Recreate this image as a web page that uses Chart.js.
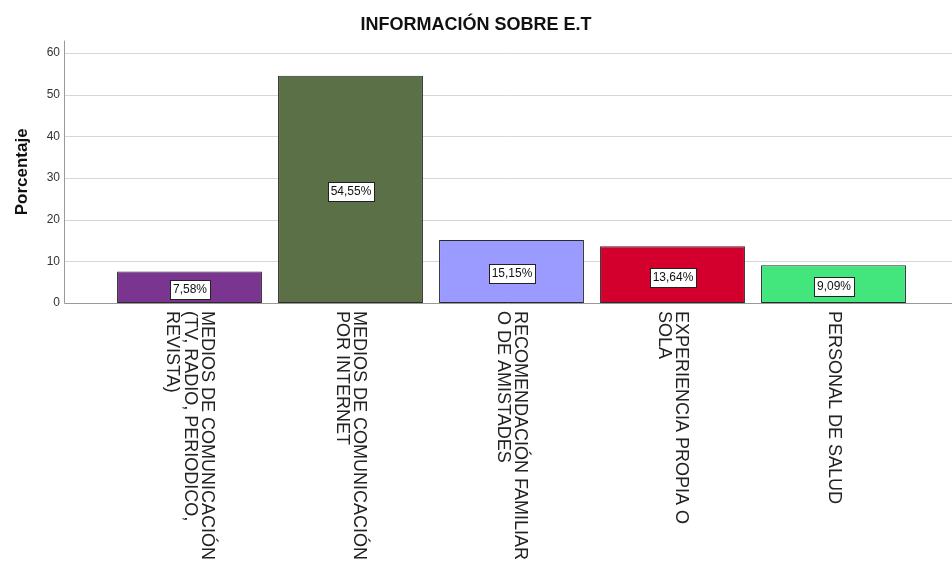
<!DOCTYPE html>
<html>
<head>
<meta charset="utf-8">
<script src="https://cdn.jsdelivr.net/npm/chart.js@4"></script>
<style>
  html, body { margin: 0; padding: 0; background: #fff; }
  #wrap { width: 952px; height: 561px; }
</style>
</head>
<body>
<div id="wrap"><canvas id="chart"></canvas></div>
<script>
// Data
const categories = [
    ['MEDIOS DE COMUNICACIÓN', '(TV, RADIO, PERIODICO,', 'REVISTA)'],
    ['MEDIOS DE COMUNICACIÓN', 'POR INTERNET'],
    ['RECOMENDACIÓN FAMILIAR', 'O DE AMISTADES'],
    ['EXPERIENCIA PROPIA O', 'SOLA'],
    ['PERSONAL DE SALUD']
];
const percentages = [7.58, 54.55, 15.15, 13.64, 9.09];
const valueLabels = ['7,58%', '54,55%', '15,15%', '13,64%', '9,09%'];
const yTicks = [0, 10, 20, 30, 40, 50, 60];
const barColors = ['#7a3590', '#5c7047', '#9b9bff', '#d3002e', '#42e67d'];

const FONT = '"Liberation Sans", Arial, sans-serif';

// grid + axis lines (drawn behind bars, spanning wider than the category area)
const gridPlugin = {
    id: 'spssGrid',
    beforeDatasetsDraw(chart) {
        const ctx = chart.ctx;
        const y = chart.scales.y;
        const axisX = Math.round(y.right) + 0.5;
        ctx.save();
        ctx.lineWidth = 1;
        ctx.strokeStyle = '#d6d6d6';
        yTicks.forEach(t => {
            if (t === 0) return;
            const py = Math.round(y.getPixelForValue(t)) + 0.5;
            ctx.beginPath();
            ctx.moveTo(axisX, py);
            ctx.lineTo(chart.width, py);
            ctx.stroke();
        });
        ctx.strokeStyle = '#9a9a9a';
        const base = Math.round(y.getPixelForValue(0)) + 0.5;
        ctx.beginPath();
        ctx.moveTo(axisX, chart.chartArea.top);
        ctx.lineTo(axisX, base);
        ctx.lineTo(chart.width, base);
        ctx.stroke();
        ctx.restore();
    }
};

// value boxes and rotated category labels
const labelPlugin = {
    id: 'spssLabels',
    afterDatasetsDraw(chart) {
        const ctx = chart.ctx;
        const xs = chart.scales.x;
        const ys = chart.scales.y;
        ctx.save();
        ctx.font = '12px ' + FONT;
        ctx.textAlign = 'center';
        ctx.textBaseline = 'middle';
        percentages.forEach((v, i) => {
            const cx = Math.round(xs.getPixelForValue(i));
            const cy = Math.round(ys.getPixelForValue(v / 2)) + 2;
            const w = Math.ceil(ctx.measureText(valueLabels[i]).width) + 5;
            const h = 19;
            const bx = Math.round(cx - w / 2) + 0.5;
            const by = Math.round(cy - h / 2) + 0.5;
            ctx.fillStyle = '#fff';
            ctx.fillRect(bx, by, w, h);
            ctx.strokeStyle = '#222';
            ctx.lineWidth = 1;
            ctx.strokeRect(bx, by, w, h);
            ctx.fillStyle = '#111';
            ctx.fillText(valueLabels[i], cx, cy + 1);
        });

        ctx.font = '18px ' + FONT;
        ctx.fillStyle = '#222';
        ctx.textAlign = 'left';
        const pitch = 17.5;
        const startY = chart.chartArea.bottom + 8;
        categories.forEach((lines, i) => {
            const cx = xs.getPixelForValue(i);
            ctx.save();
            ctx.translate(cx, startY);
            ctx.rotate(Math.PI / 2);
            lines.forEach((line, j) => {
                const ly = -((lines.length - 1) / 2 - j) * pitch;
                ctx.fillText(line, 0, ly);
            });
            ctx.restore();
        });
        ctx.restore();
    }
};

new Chart(document.getElementById('chart'), {
    type: 'bar',
    data: {
        labels: categories.map(c => c.join(' ')),
        datasets: [{
            data: percentages,
            backgroundColor: barColors,
            borderColor: '#2a2a2a',
            borderWidth: 1,
            borderSkipped: false,
            barPercentage: 0.9,
            categoryPercentage: 1.0
        }]
    },
    options: {
        responsive: true,
        maintainAspectRatio: false,
        animation: false,
        layout: { padding: { left: 0, right: 0, top: 0, bottom: 258 } },
        plugins: {
            legend: { display: false },
            tooltip: { enabled: false },
            title: {
                display: true,
                text: 'INFORMACIÓN SOBRE E.T',
                color: '#111',
                font: { family: FONT, size: 18, weight: 'bold' },
                padding: { top: 14, bottom: 5 }
            }
        },
        scales: {
            x: { display: false },
            y: {
                min: 0,
                max: 63,
                weight: 2,
                afterFit(scale) { scale.width = 64; },
                afterBuildTicks(scale) {
                    scale.ticks = yTicks.map(v => ({ value: v }));
                },
                grid: { display: false, drawTicks: false },
                border: { display: false },
                ticks: {
                    padding: 4,
                    color: '#333',
                    font: { family: FONT, size: 12 }
                },
                title: {
                    display: true,
                    text: 'Porcentaje',
                    color: '#111',
                    font: { family: FONT, size: 17, weight: 'bold' },
                    padding: { top: 12, bottom: 0 }
                }
            },
            // empty axes that only reserve the gaps beside the first and last bar
            yGap: {
                position: 'left',
                weight: 1,
                afterFit(scale) { scale.width = 45; },
                grid: { display: false, drawTicks: false },
                border: { display: false },
                ticks: { display: false }
            },
            yRight: {
                position: 'right',
                afterFit(scale) { scale.width = 38; },
                grid: { display: false, drawTicks: false },
                border: { display: false },
                ticks: { display: false }
            }
        }
    },
    plugins: [gridPlugin, labelPlugin]
});
</script>
</body>
</html>
